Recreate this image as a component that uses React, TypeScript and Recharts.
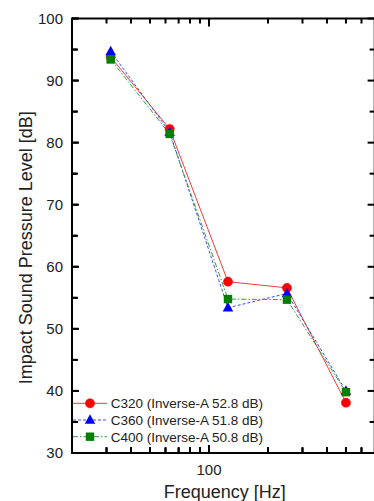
import React from 'react';
import { LineChart, Line, XAxis, YAxis, Legend, ReferenceArea } from 'recharts';

const FREQUENCIES = [31.5, 63, 125, 250, 500];
const C320 = [93.8, 82.2, 57.6, 56.6, 38.1];
const C360 = [94.7, 81.7, 53.4, 55.7, 40.0];
const C400 = [93.4, 81.4, 54.8, 54.7, 39.8];
const SERIES_NAMES = ['C320 (Inverse-A 52.8 dB)', 'C360 (Inverse-A 51.8 dB)', 'C400 (Inverse-A 50.8 dB)'];
const X_TICKS = [30, 40, 50, 60, 70, 80, 90, 100, 200, 300, 400, 500, 600];
const X_LABELED = [100];
const Y_TICKS = [30, 35, 40, 45, 50, 55, 60, 65, 70, 75, 80, 85, 90, 95, 100];
const X_DOMAIN = [20, 700];
const Y_DOMAIN = [30, 100];

const data = FREQUENCIES.map((f, i) => ({ freq: f, c320: C320[i], c360: C360[i], c400: C400[i] }));

const FONT = '"Liberation Sans", Arial, Helvetica, sans-serif';

const PLOT_W = 302.6;
const PLOT_H = 434.5;

const SERIES = [
  { key: 'c320', name: SERIES_NAMES[0], color: '#ff0000', line: '#f03c3c', dash: undefined, shape: 'circle' },
  { key: 'c360', name: SERIES_NAMES[1], color: '#0000ff', line: '#3c4cf0', dash: '3 2', shape: 'triangle' },
  { key: 'c400', name: SERIES_NAMES[2], color: '#008000', line: '#3c9a3c', dash: '5 2 1.5 2', shape: 'square' },
];

function Marker({ cx, cy, shape, color }: any) {
  if (cx == null || cy == null) return null;
  if (shape === 'circle') return <circle cx={cx} cy={cy} r={4.6} fill={color} stroke={color} strokeWidth={0.5} />;
  if (shape === 'triangle') {
    return <polygon points={`${cx},${cy - 5.7} ${cx - 5.25},${cy + 3.8} ${cx + 5.25},${cy + 3.8}`} fill={color} />;
  }
  return <rect x={cx - 4.2} y={cy - 4.2} width={8.4} height={8.4} fill={color} />;
}

const makeDot = (shape: string, color: string) => (p: any) => (
  <Marker key={`d-${shape}-${p.index}`} cx={p.cx} cy={p.cy} shape={shape} color={color} />
);

// x is the label position (axis x - 9)
const LeftTick = ({ x, y, payload }: any) => {
  const major = payload.value % 10 === 0;
  const xl = x + 9;
  const xr = xl + PLOT_W;
  const len = major ? 7 : 5;
  return (
    <g>
      <line x1={xl} x2={xl + len} y1={y} y2={y} stroke="#000000" strokeWidth={2} />
      <line x1={xr} x2={xr - len} y1={y} y2={y} stroke="#000000" strokeWidth={2} />
      {major && (
        <text x={x} y={y} dy="0.36em" textAnchor="end" fontSize={15} fontFamily={FONT} fill="#222222">
          {payload.value}
        </text>
      )}
    </g>
  );
};

// y is axis y + 6
const BottomTick = ({ x, y, payload }: any) => {
  const major = X_LABELED.includes(payload.value);
  const yb = y - 6;
  const yt = yb - PLOT_H;
  const len = major ? 8 : 5;
  return (
    <g>
      <line x1={x} x2={x} y1={yb} y2={yb - len} stroke="#000000" strokeWidth={2} />
      <line x1={x} x2={x} y1={yt} y2={yt + len} stroke="#000000" strokeWidth={2} />
      {major && (
        <text x={x} y={y + 15.5} textAnchor="middle" fontSize={15} fontFamily={FONT} fill="#222222">
          {payload.value}
        </text>
      )}
    </g>
  );
};

const renderLegend = () => (
  <svg width={200} height={52} style={{ display: 'block' }}>
    {SERIES.map((s, i) => {
      const cy = 8.3 + i * 16.7;
      return (
        <g key={s.key}>
          <line x1={0} x2={34} y1={cy} y2={cy} stroke={s.line} strokeWidth={1} strokeDasharray={s.dash} />
          <Marker cx={17} cy={cy} shape={s.shape} color={s.color} />
          <text x={37.7} y={cy} dy="0.36em" fontSize={13.5} fontFamily={FONT} fill="#222222">
            {s.name}
          </text>
        </g>
      );
    })}
  </svg>
);

export default function App() {
  return (
    <div style={{ position: 'absolute', left: 0, top: 0, width: 374, height: 501, overflow: 'hidden', background: '#ffffff' }}>
      <LineChart width={380} height={501} data={data} margin={{ top: 18.5, right: 5.4, bottom: 0, left: 0 }}>
        <ReferenceArea
          xAxisId="bottom"
          yAxisId="left"
          x1={X_DOMAIN[0]}
          x2={X_DOMAIN[1]}
          y1={Y_DOMAIN[0]}
          y2={Y_DOMAIN[1]}
          fill="none"
          fillOpacity={0}
          stroke="#000000"
          strokeWidth={1.8}
          strokeOpacity={1}
          ifOverflow="visible"
        />
        <XAxis
          xAxisId="bottom"
          dataKey="freq"
          type="number"
          scale="log"
          domain={X_DOMAIN}
          allowDataOverflow
          ticks={X_TICKS}
          interval={0}
          orientation="bottom"
          height={48}
          tickSize={-6}
          tickMargin={12}
          stroke="#000000"
          tickLine={{ stroke: '#000000', strokeWidth: 2 }}
          axisLine={{ stroke: '#000000', strokeWidth: 1.8 }}
          tick={<BottomTick />}
          label={{
            content: ({ viewBox }: any) => (
              <text
                x={viewBox.x + viewBox.width / 2 + 1.5}
                y={viewBox.y + 38.7}
                dominantBaseline="central"
                textAnchor="middle"
                fontSize={18}
                fontFamily={FONT}
                fill="#222222"
              >
                Frequency [Hz]
              </text>
            ),
          }}
        />
        <YAxis
          yAxisId="left"
          type="number"
          domain={Y_DOMAIN}
          ticks={Y_TICKS}
          interval={0}
          width={72}
          tickSize={-6}
          tickMargin={15}
          stroke="#000000"
          tickLine={{ stroke: '#000000', strokeWidth: 2 }}
          axisLine={{ stroke: '#000000', strokeWidth: 1.8 }}
          tick={<LeftTick />}
          label={{
            content: ({ viewBox }: any) => {
              const cx = viewBox.x + 26;
              const cy = viewBox.y + viewBox.height / 2 + 12;
              return (
                <text
                  x={cx}
                  y={cy}
                  transform={`rotate(-90, ${cx}, ${cy})`}
                  dominantBaseline="central"
                  textAnchor="middle"
                  fontSize={18}
                  fontFamily={FONT}
                  fill="#222222"
                >
                  Impact Sound Pressure Level [dB]
                </text>
              );
            },
          }}
        />
        {SERIES.map((s) => (
          <Line
            key={s.key}
            xAxisId="bottom"
            yAxisId="left"
            dataKey={s.key}
            name={s.name}
            stroke={s.line}
            strokeWidth={1}
            strokeDasharray={s.dash}
            dot={makeDot(s.shape, s.color)}
            activeDot={false}
            isAnimationActive={false}
          />
        ))}
        <Legend
          layout="horizontal"
          verticalAlign="middle"
          align="center"
          content={renderLegend}
          wrapperStyle={{ position: 'absolute', left: 73, top: 395, width: 200, height: 52 }}
        />
      </LineChart>
    </div>
  );
}
